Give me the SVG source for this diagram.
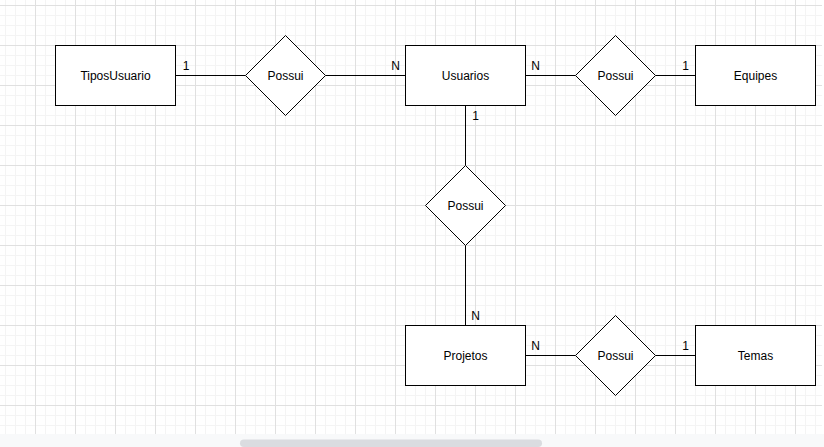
<svg xmlns="http://www.w3.org/2000/svg" width="824" height="447" viewBox="0 0 824 447">
  <style>
    .ent { fill: #ffffff; stroke: #000000; stroke-width: 1; }
    .rel { fill: #ffffff; stroke: #000000; stroke-width: 1; }
    .edge { fill: none; stroke: #000000; stroke-width: 1; }
    .lbl { font-family: "Liberation Sans", Arial, Helvetica, sans-serif; font-size: 12px; fill: #000000; text-anchor: middle; dominant-baseline: central; }
    .card { font-family: "Liberation Sans", Arial, Helvetica, sans-serif; font-size: 12px; fill: #000000; text-anchor: middle; }
  </style>
  <defs>
    <pattern id="grid" patternUnits="userSpaceOnUse" x="35" y="5" width="40" height="40">
      <path d="M10.5 0V40M20.5 0V40M30.5 0V40M0 10.5H40M0 20.5H40M0 30.5H40" stroke="#f4f4f4" stroke-width="1" fill="none"/>
      <path d="M0.5 0V40M0 0.5H40" stroke="#e0e0e0" stroke-width="1" fill="none"/>
    </pattern>
  </defs>
  <rect x="0" y="0" width="824" height="447" fill="#ffffff"/>
  <rect x="0" y="0" width="822" height="434" fill="url(#grid)"/>
  <rect x="0" y="434" width="824" height="13" fill="#f8f9fa"/>
  <rect x="240" y="439.5" width="302" height="7.5" rx="3.75" fill="#dadce0"/>

  <g id="connectors">
    <path class="edge" d="M175.5 75.5H245.5"/>
    <path class="edge" d="M325.5 75.5H405.5"/>
    <path class="edge" d="M525.5 75.5H575.5"/>
    <path class="edge" d="M655.5 75.5H695.5"/>
    <path class="edge" d="M465.5 105.5V165.5"/>
    <path class="edge" d="M465.5 245.5V325.5"/>
    <path class="edge" d="M525.5 355.5H575.5"/>
    <path class="edge" d="M655.5 355.5H695.5"/>
    <text class="card" x="186" y="70">1</text>
    <text class="card" x="395.5" y="70">N</text>
    <text class="card" x="535.5" y="70">N</text>
    <text class="card" x="685.5" y="70">1</text>
    <text class="card" x="475.5" y="120">1</text>
    <text class="card" x="475.5" y="320">N</text>
    <text class="card" x="535.5" y="350">N</text>
    <text class="card" x="685.5" y="350">1</text>
  </g>

  <g id="TiposUsuario">
    <rect class="ent" x="55.5" y="45.5" width="120" height="60"/>
    <text class="lbl" x="115.5" y="75.5">TiposUsuario</text>
  </g>
  <g id="Usuarios">
    <rect class="ent" x="405.5" y="45.5" width="120" height="60"/>
    <text class="lbl" x="465.5" y="75.5">Usuarios</text>
  </g>
  <g id="Equipes">
    <rect class="ent" x="695.5" y="45.5" width="120" height="60"/>
    <text class="lbl" x="755.5" y="75.5">Equipes</text>
  </g>
  <g id="Projetos">
    <rect class="ent" x="405.5" y="325.5" width="120" height="60"/>
    <text class="lbl" x="465.5" y="355.5">Projetos</text>
  </g>
  <g id="Temas">
    <rect class="ent" x="695.5" y="325.5" width="120" height="60"/>
    <text class="lbl" x="755.5" y="355.5">Temas</text>
  </g>

  <g id="PossuiTipos">
    <polygon class="rel" points="285.5,35.5 325.5,75.5 285.5,115.5 245.5,75.5"/>
    <text class="lbl" x="285.5" y="75.5">Possui</text>
  </g>
  <g id="PossuiEquipes">
    <polygon class="rel" points="615.5,35.5 655.5,75.5 615.5,115.5 575.5,75.5"/>
    <text class="lbl" x="615.5" y="75.5">Possui</text>
  </g>
  <g id="PossuiProjetos">
    <polygon class="rel" points="465.5,165.5 505.5,205.5 465.5,245.5 425.5,205.5"/>
    <text class="lbl" x="465.5" y="205.5">Possui</text>
  </g>
  <g id="PossuiTemas">
    <polygon class="rel" points="615.5,315.5 655.5,355.5 615.5,395.5 575.5,355.5"/>
    <text class="lbl" x="615.5" y="355.5">Possui</text>
  </g>
</svg>
